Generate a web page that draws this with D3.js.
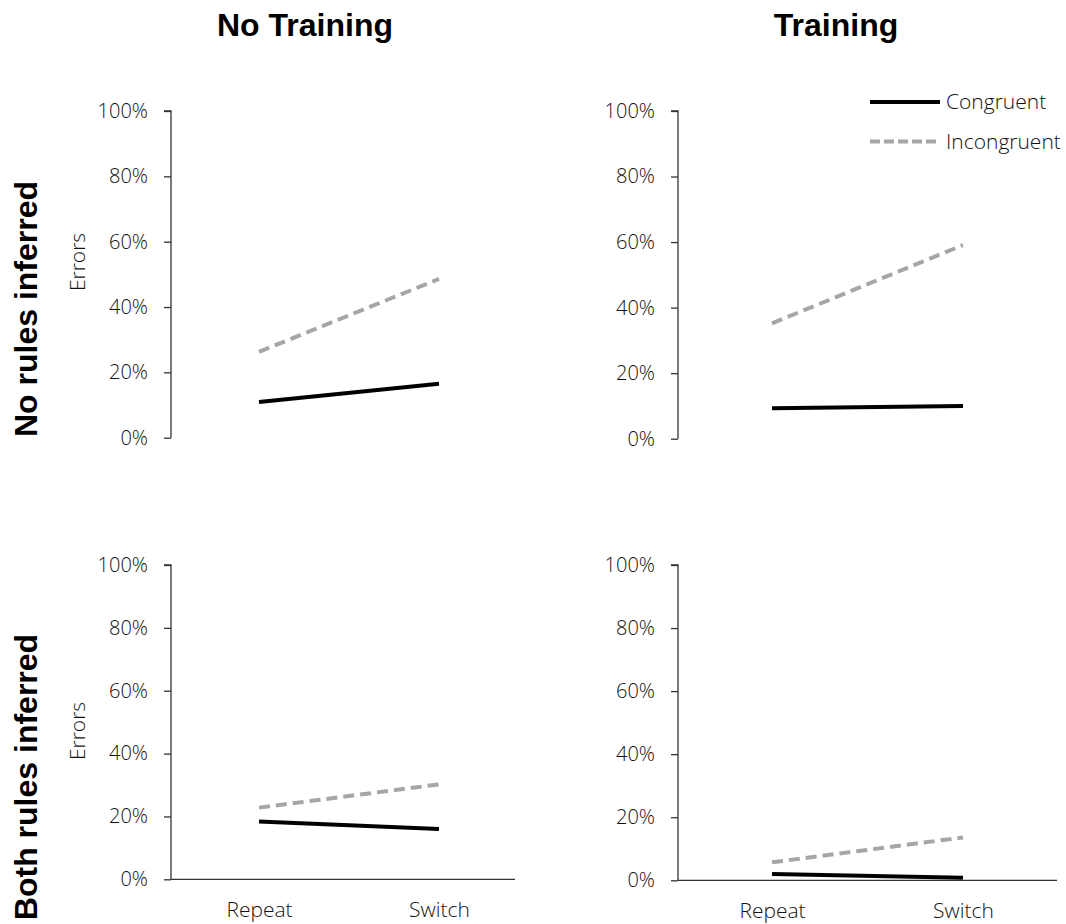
<!DOCTYPE html>
<html>
<head>
<meta charset="utf-8">
<script src="https://cdn.jsdelivr.net/npm/d3@7"></script>
<style>
  html, body { margin: 0; padding: 0; background: #fff; }
  svg { display: block; }
  .tick text, .lbl { font-family: "Open Sans", sans-serif; font-weight: 300; fill: #111; }
  .head { font-family: "Liberation Sans", Arial, sans-serif; font-weight: bold; fill: #000; }
</style>
</head>
<body>
<svg id="chart" width="1066" height="924"></svg>
<script>
// Task conditions on the x axis
const categories = ["Repeat", "Switch"];
const columnTitles = ["No Training", "Training"];
const rowTitles = ["No rules inferred", "Both rules inferred"];
const seriesNames = ["Congruent", "Incongruent"];
const yTicks = [0, 0.2, 0.4, 0.6, 0.8, 1.0];

// Error rates, one pair [Repeat, Switch] per column: [No Training, Training]
const congruentNoRules = [[0.109, 0.165], [0.093, 0.100]];
const incongruentNoRules = [[0.263, 0.486], [0.352, 0.591]];
const congruentBothRules = [[0.184, 0.160], [0.020, 0.008]];
const incongruentBothRules = [[0.228, 0.302], [0.057, 0.136]];

const rows = [
  { congruent: congruentNoRules, incongruent: incongruentNoRules, showXAxis: false },
  { congruent: congruentBothRules, incongruent: incongruentBothRules, showXAxis: true }
];

// Panel geometry
const colGeom = [
  { axisX: 171, pts: [259, 439], axisEnd: 515 },
  { axisX: 678, pts: [772, 963], axisEnd: 1057 }
];
const rowGeom = [
  { top: 111, bottom: [437.7, 438.7], errorsY: 262 },
  { top: 565, bottom: [879.3, 880.3], errorsY: 731 }
];

const styles = {
  Congruent: { color: "#000000", width: 4, dash: null },
  Incongruent: { color: "#A6A6A6", width: 4, dash: "11,6" }
};

const svg = d3.select("#chart");

rows.forEach((row, ri) => {
  columnTitles.forEach((col, ci) => {
    const cg = colGeom[ci];
    const rg = rowGeom[ri];
    const y = d3.scaleLinear().domain([0, 1]).range([rg.bottom[ci], rg.top]);
    const x = d3.scalePoint().domain(categories).range(cg.pts);
    const g = svg.append("g");

    // y axis
    const yAxis = d3.axisLeft(y)
      .tickValues(yTicks)
      .tickFormat(d3.format(".0%"))
      .tickSize(7)
      .tickPadding(16);
    const ya = g.append("g").attr("transform", `translate(${cg.axisX},0)`).call(yAxis);
    ya.selectAll("path, line").attr("stroke", "#333").attr("stroke-width", 1.3);
    ya.select(".domain").attr("d", `M-7,${y(1)}H0V${y(0)}`);
    ya.selectAll(".tick text").style("font-size", "20px");

    // x axis (bottom row only)
    if (row.showXAxis) {
      g.append("line")
        .attr("x1", cg.axisX).attr("x2", cg.axisEnd)
        .attr("y1", y(0)).attr("y2", y(0))
        .attr("stroke", "#333").attr("stroke-width", 1.3);
      const xAxis = d3.axisBottom(x).tickSize(0).tickPadding(23);
      const xa = g.append("g").attr("transform", `translate(0,${y(0)})`).call(xAxis);
      xa.select(".domain").remove();
      xa.selectAll(".tick text").style("font-size", "21px");
    }

    // y axis title on left column
    if (ci === 0) {
      g.append("text").attr("class", "lbl")
        .attr("transform", `translate(85,${rg.errorsY}) rotate(-90)`)
        .attr("text-anchor", "middle")
        .style("font-size", "21px")
        .text("Errors");
    }

    // series lines
    const line = d3.line().x((d, i) => x(categories[i])).y(d => y(d));
    [["Congruent", row.congruent[ci]], ["Incongruent", row.incongruent[ci]]].forEach(([name, vals]) => {
      const s = styles[name];
      g.append("path")
        .datum(vals)
        .attr("d", line)
        .attr("fill", "none")
        .attr("stroke", s.color)
        .attr("stroke-width", s.width)
        .attr("stroke-dasharray", s.dash);
    });
  });
});

// Column titles
const titleX = [305, 836];
columnTitles.forEach((t, i) => {
  svg.append("text").attr("class", "head")
    .attr("x", titleX[i]).attr("y", 36)
    .attr("text-anchor", "middle")
    .style("font-size", "32px")
    .text(t);
});

// Row titles
const rowTitleY = [309, 777];
rowTitles.forEach((t, i) => {
  svg.append("text").attr("class", "head")
    .attr("transform", `translate(37,${rowTitleY[i]}) rotate(-90)`)
    .attr("text-anchor", "middle")
    .style("font-size", "32px")
    .text(t);
});

// Legend
const legend = svg.append("g").attr("transform", "translate(870,102)");
seriesNames.forEach((name, i) => {
  const s = styles[name];
  const ly = i * 39.5;
  legend.append("line")
    .attr("x1", 0).attr("x2", 70).attr("y1", ly).attr("y2", ly)
    .attr("stroke", s.color).attr("stroke-width", s.width)
    .attr("stroke-dasharray", s.dash ? "10,4" : null);
  legend.append("text").attr("class", "lbl")
    .attr("x", 76).attr("y", ly)
    .attr("dy", "0.35em")
    .style("font-size", "21px")
    .text(name);
});
</script>
</body>
</html>
